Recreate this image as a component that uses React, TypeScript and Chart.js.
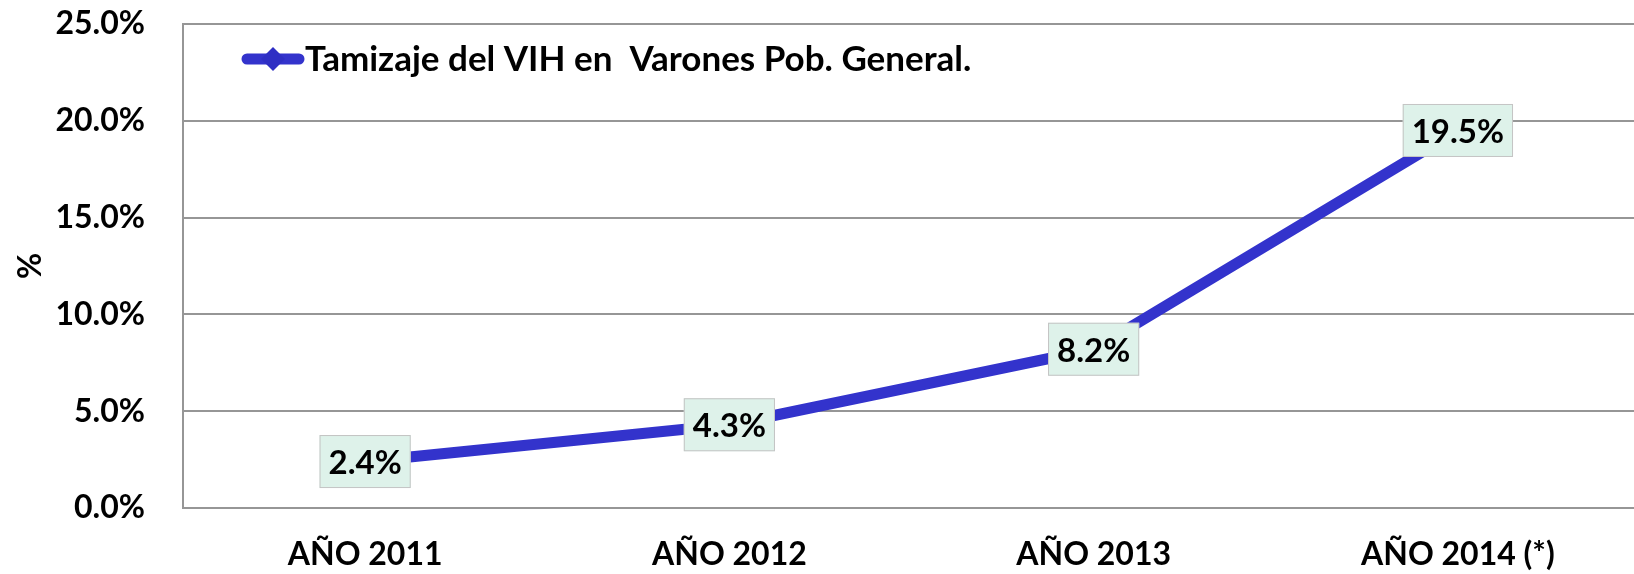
import React, { useEffect, useRef } from "react";
import { Chart, registerables } from "chart.js";

Chart.register(...registerables);

const categories = ["AÑO 2011", "AÑO 2012", "AÑO 2013", "AÑO 2014 (*)"];
const values = [2.4, 4.3, 8.2, 19.5];
const seriesName = "Tamizaje del VIH en  Varones Pob. General.";
const yTitle = "%";

const FONT = "Lato, 'Open Sans', sans-serif";
const LINE_COLOR = "#3333CC";
const GRID_COLOR = "#969696";

const labelPlugin = {
  id: "valueLabels",
  afterDatasetsDraw(chart: any) {
    const ctx = chart.ctx;
    const meta = chart.getDatasetMeta(0);
    ctx.save();
    ctx.font = `bold 33px ${FONT}`;
    ctx.textAlign = "center";
    ctx.textBaseline = "middle";
    meta.data.forEach((pt: any, i: number) => {
      const txt = values[i].toFixed(1) + "%";
      const w = ctx.measureText(txt).width + 18;
      const h = 53;
      const x = pt.x - w / 2;
      const y = pt.y - h / 2;
      ctx.fillStyle = "#DEF2EA";
      ctx.fillRect(x, y, w, h);
      ctx.strokeStyle = "#C4C4C4";
      ctx.lineWidth = 1;
      ctx.strokeRect(x + 0.5, y + 0.5, w - 1, h - 1);
      ctx.fillStyle = "#000";
      ctx.fillText(txt, pt.x, pt.y + 2);
    });
    ctx.restore();
  },
};

const legendPlugin = {
  id: "insideLegend",
  afterDraw(chart: any) {
    const ctx = chart.ctx;
    const area = chart.chartArea;
    const x0 = area.left + 59;
    const x1 = area.left + 121;
    const y = area.top + 35;
    ctx.save();
    ctx.strokeStyle = LINE_COLOR;
    ctx.lineWidth = 11;
    ctx.lineCap = "round";
    ctx.beginPath();
    ctx.moveTo(x0 + 5, y);
    ctx.lineTo(x1 - 5, y);
    ctx.stroke();
    const cx = (x0 + x1) / 2;
    ctx.fillStyle = "#2E2EC4";
    ctx.beginPath();
    ctx.moveTo(cx, y - 12);
    ctx.lineTo(cx + 12, y);
    ctx.lineTo(cx, y + 12);
    ctx.lineTo(cx - 12, y);
    ctx.closePath();
    ctx.fill();
    ctx.fillStyle = "#000";
    ctx.font = `bold 35px ${FONT}`;
    ctx.textAlign = "left";
    ctx.textBaseline = "middle";
    ctx.fillText(seriesName, x1 + 1, y + 1);
    ctx.restore();
  },
};

export default function App() {
  const ref = useRef<HTMLCanvasElement | null>(null);
  useEffect(() => {
    document.body.style.margin = "0";
    const chart = new Chart(ref.current as HTMLCanvasElement, {
      type: "line",
      data: {
        labels: categories,
        datasets: [
          {
            label: seriesName,
            data: values,
            borderColor: LINE_COLOR,
            backgroundColor: LINE_COLOR,
            borderWidth: 11,
            pointRadius: 0,
            borderCapStyle: "round",
            borderJoinStyle: "round",
            tension: 0,
          },
        ],
      },
      options: {
        responsive: false,
        animation: false,
        layout: { padding: { top: 0, right: 0, bottom: 0, left: 0 } },
        plugins: {
          legend: { display: false },
          tooltip: { enabled: false },
        },
        scales: {
          x: {
            offset: true,
            grid: { display: false, drawTicks: false },
            border: { display: true, color: GRID_COLOR, width: 2 },
            ticks: {
              color: "#000",
              font: { family: FONT, size: 32, weight: "bold" },
              padding: 27,
              maxRotation: 0,
            },
            afterFit(scale: any) {
              scale.height = 66;
            },
          },
          y: {
            min: 0,
            max: 25,
            grid: { color: GRID_COLOR, lineWidth: 2, drawTicks: false },
            border: { display: true, color: GRID_COLOR, width: 2 },
            ticks: {
              stepSize: 5,
              color: "#000",
              font: { family: FONT, size: 32, weight: "bold", lineHeight: 1.0 },
              padding: 38,
              callback: (v: any) => Number(v).toFixed(1) + "%",
            },
            title: {
              display: true,
              text: yTitle,
              color: "#000",
              font: { family: FONT, size: 32, weight: "bold" },
              padding: { top: 11, bottom: 0 },
            },
            afterFit(scale: any) {
              scale.width = 183;
              scale.paddingTop = 24;
            },
          },
        },
      },
      plugins: [labelPlugin, legendPlugin],
    } as any);
    return () => chart.destroy();
  }, []);
  return (
    <div
      style={{
        position: "fixed",
        left: 0,
        top: 0,
        width: 1634,
        height: 574,
        overflow: "hidden",
        background: "#fff",
      }}
    >
      <canvas ref={ref} width={1640} height={574} style={{ width: 1640, height: 574, display: "block" }} />
    </div>
  );
}
